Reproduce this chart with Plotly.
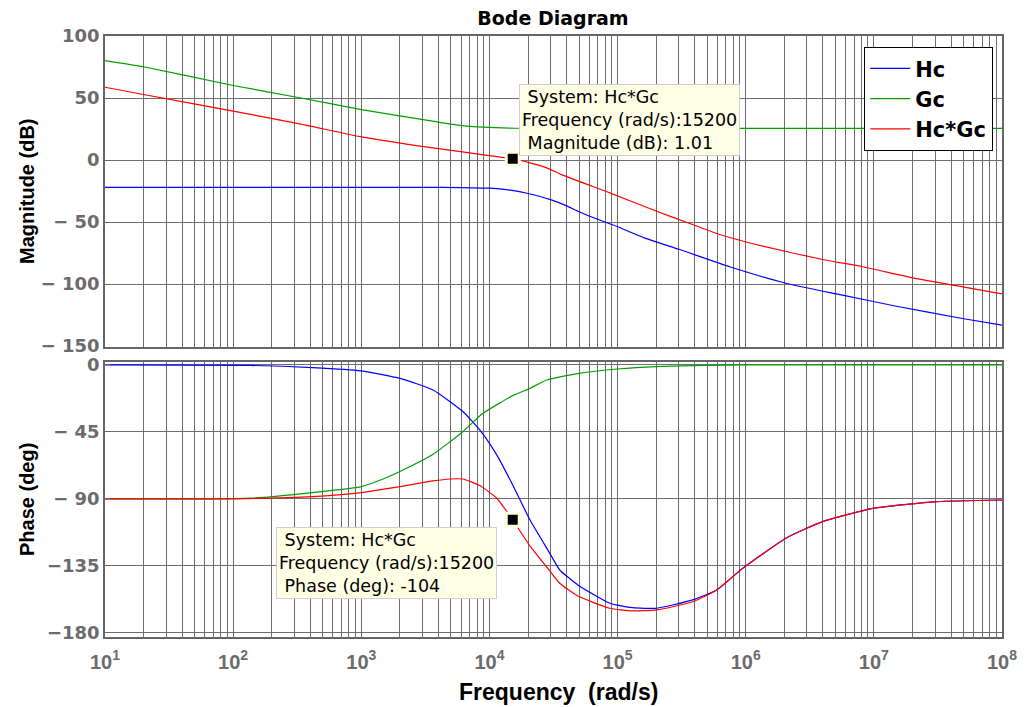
import plotly.graph_objects as go

# ---------------- data ----------------
# Magnitude (dB)
hc_mag_w = [10, 30, 100, 300, 1000, 3000, 6000, 10000, 15000, 20000, 30000, 40000,
            49000, 65000, 98000, 162000, 305000, 750000, 2090000, 5700000, 1.5e7, 4.9e7, 1e8]
hc_mag = [-22, -22, -22, -22, -22, -22, -22.2, -22.7, -24.5, -27, -32, -37,
          -41.3, -46.6, -53.4, -62.8, -72.2, -86.1, -99.6, -109, -117.9, -127.8, -133.2]

gc_mag_w = [10, 20, 100, 330, 1000, 3600, 6600, 15800, 30000, 1e5, 1e6, 1e7, 1e8]
gc_mag = [80.2, 75.2, 60.1, 50.2, 40.7, 31.3, 27.3, 25.6, 25.5, 25.5, 25.5, 25.5, 25.5]

hg_mag_w = [10, 20, 100, 330, 1000, 3630, 10000, 15200, 20700, 28000, 37400, 86900,
            202000, 366000, 662000, 1360000, 3980000, 8180000, 2.01e7, 4.93e7, 1e8]
hg_mag = [58.7, 52.8, 39.4, 29.2, 18.7, 9.8, 3.6, 1.01, -2.3, -6.3, -12.2, -26.5,
          -41.3, -51.2, -60.9, -69.5, -80.2, -86.1, -95, -102.3, -107.9]

# Phase (deg)
hc_ph_w = [10, 135, 417, 1000, 2000, 3630, 6200, 8400, 11400, 15200, 20700, 29600,
           35400, 49000, 86900, 131000, 202000, 386000, 594000, 948000, 2090000,
           3980000, 9800000, 3.09e7, 1e8]
hc_ph = [0, -0.3, -1.8, -4, -9, -16.8, -31.3, -43.6, -60.4, -80.6, -104, -126.5,
         -137.7, -147.7, -160, -163, -163.4, -157.8, -151.1, -136.5, -116,
         -105.2, -96.3, -91.8, -90.7]

gc_ph_w = [10, 135, 417, 1000, 1480, 2000, 3630, 6200, 8900, 15200, 20700, 28000,
           50000, 100000, 200000, 500000, 1e6, 1e8]
gc_ph = [-90, -89.5, -85.7, -81.7, -76.6, -71.6, -60, -44.8, -32.5, -20.6, -15.7, -10.1,
         -5.6, -2.7, -1.1, -0.3, 0, 0]

hg_ph_w = [10, 75, 417, 1000, 2000, 3630, 4900, 6200, 8400, 11400, 13700, 15200, 20700,
           29600, 35400, 49000, 86900, 131000, 202000, 386000, 594000, 948000,
           2090000, 3980000, 9800000, 3.09e7, 1e8]
hg_ph = [-90, -90, -88.4, -85.7, -81.7, -77.9, -76.6, -76.6, -81, -89.5, -98.5, -104, -121.5,
         -138.3, -146.6, -155.2, -163.4, -165.2, -164.5, -159, -151.1, -136.6,
         -116, -105.2, -96.3, -91.8, -90.7]

# data tips
tip_w = [15200]
tip_mag = [1.01]
tip_ph = [-104]

series_names = ["Hc", "Gc", "Hc*Gc"]
series_colors = ["#0000FF", "#00A000", "#FF0000"]

x_tick_vals = [10, 100, 1e3, 1e4, 1e5, 1e6, 1e7, 1e8]
x_tick_text = ["10<sup>%d</sup>" % k for k in range(1, 9)]
mag_tick_vals = [100, 50, 0, -50, -100, -150]
mag_tick_text = ["100", "50", "0", "\u2212 50", "\u2212 100", "\u2212 150"]
ph_tick_vals = [0, -45, -90, -135, -180]
ph_tick_text = ["0", "\u2212 45", "\u2212 90", "\u2212135", "\u2212180"]

# ---------------- figure ----------------
fig = go.Figure()

mag_sets = [(hc_mag_w, hc_mag), (gc_mag_w, gc_mag), (hg_mag_w, hg_mag)]
ph_sets = [(hc_ph_w, hc_ph), (gc_ph_w, gc_ph), (hg_ph_w, hg_ph)]

for (w, m), name, col in zip(mag_sets, series_names, series_colors):
    fig.add_trace(go.Scatter(x=w, y=m, mode="lines", name="<b>%s</b>" % name,
                             line=dict(color=col, width=1.2, shape="spline", smoothing=0.5),
                             xaxis="x", yaxis="y"))
for (w, p), name, col in zip(ph_sets, series_names, series_colors):
    fig.add_trace(go.Scatter(x=w, y=p, mode="lines", name=name, showlegend=False,
                             line=dict(color=col, width=1.2, shape="spline", smoothing=0.5),
                             xaxis="x2", yaxis="y2"))

tip_marker = dict(symbol="square", size=13, color="black",
                  line=dict(color="#FFFFE0", width=3))
fig.add_trace(go.Scatter(x=tip_w, y=tip_mag, mode="markers", marker=tip_marker,
                         showlegend=False, xaxis="x", yaxis="y"))
fig.add_trace(go.Scatter(x=tip_w, y=tip_ph, mode="markers", marker=tip_marker,
                         showlegend=False, xaxis="x2", yaxis="y2"))

minor_vals = [k * 10 ** d for d in range(1, 8) for k in range(2, 10)]
grid_col = "#6e6e6e"
axis_col = "#666666"
tick_font = dict(family="DejaVu Sans", size=18, color="#6b6b6b", weight="bold")

common_x = dict(type="log", range=[1, 8], tickvals=x_tick_vals, showgrid=True,
                gridcolor=grid_col, gridwidth=1, showline=True, mirror=True,
                linecolor=axis_col, linewidth=1.5, ticks="inside", ticklen=5,
                tickcolor=axis_col, zeroline=False,
                minor=dict(tickvals=minor_vals, showgrid=True, gridcolor=grid_col,
                           gridwidth=1, ticks=""))
common_y = dict(showgrid=True, gridcolor=grid_col, gridwidth=1, showline=True,
                mirror=True, linecolor=axis_col, linewidth=1.5, ticks="inside",
                ticklen=5, tickcolor=axis_col, zeroline=False, tickfont=tick_font)

fig.update_layout(
    width=1035, height=707,
    margin=dict(l=105, r=33, t=36, b=70),
    paper_bgcolor="white", plot_bgcolor="white",
    xaxis=dict(common_x, anchor="y", showticklabels=False),
    xaxis2=dict(common_x, anchor="y2", matches="x", ticktext=x_tick_text,
                tickfont=dict(family="Liberation Sans", size=20, color="#6b6b6b",
                              weight="bold"),
                ticklabelstandoff=6),
    yaxis=dict(common_y, domain=[0.4825, 1], range=[-150.8, 100],
               tickvals=mag_tick_vals, ticktext=mag_tick_text),
    yaxis2=dict(common_y, domain=[0, 0.4576], range=[-182.7, 2.0],
                tickvals=ph_tick_vals, ticktext=ph_tick_text),
    title=dict(text="Bode Diagram", x=553 / 1035, xanchor="center", y=1 - 18 / 707,
               yanchor="middle", xref="container", yref="container",
               font=dict(family="DejaVu Sans", size=19, color="black", weight="bold")),
    legend=dict(x=0.99, xanchor="right", y=0.9817, yanchor="top",
                bgcolor="white", bordercolor="black", borderwidth=1.2,
                font=dict(family="DejaVu Sans", size=21, color="black"),
                tracegroupgap=0, itemwidth=40),
    showlegend=True,
)

title_font = dict(family="Liberation Sans", size=20, color="black", weight="bold")
fig.add_annotation(text="Magnitude (dB)", xref="paper", yref="paper",
                   x=(26.5 - 105) / 897, y=(637 - 191.5) / 601, textangle=-90,
                   showarrow=False, xanchor="center", yanchor="middle", font=title_font)
fig.add_annotation(text="Phase (deg)", xref="paper", yref="paper",
                   x=(26.5 - 105) / 897, y=(637 - 499.5) / 601, textangle=-90,
                   showarrow=False, xanchor="center", yanchor="middle", font=title_font)
fig.add_annotation(text="Frequency\u00a0\u00a0(rad/s)", xref="paper", yref="paper",
                   x=(558 - 105) / 897, y=(637 - 692) / 601, showarrow=False,
                   xanchor="center", yanchor="middle",
                   font=dict(family="Liberation Sans", size=23, color="black",
                             weight="bold"))

tip_font = dict(family="DejaVu Sans", size=17.5, color="black")
fig.add_annotation(
    text="\u00a0System: Hc*Gc<br>Frequency (rad/s):15200<br>\u00a0Magnitude (dB): 1.01",
    xref="paper", yref="paper", x=(519 - 105) / 897, y=(637 - 84) / 601,
    xanchor="left", yanchor="top", align="left", showarrow=False,
    bgcolor="#FFFFE6", bordercolor="#cfcfcf", borderwidth=1, borderpad=2, font=tip_font)
fig.add_annotation(
    text="\u00a0System: Hc*Gc<br>Frequency (rad/s):15200<br>\u00a0Phase (deg): -104",
    xref="paper", yref="paper", x=(276 - 105) / 897, y=(637 - 527) / 601,
    xanchor="left", yanchor="top", align="left", showarrow=False,
    bgcolor="#FFFFE6", bordercolor="#cfcfcf", borderwidth=1, borderpad=2, font=tip_font)

fig.write_html("out.html")
